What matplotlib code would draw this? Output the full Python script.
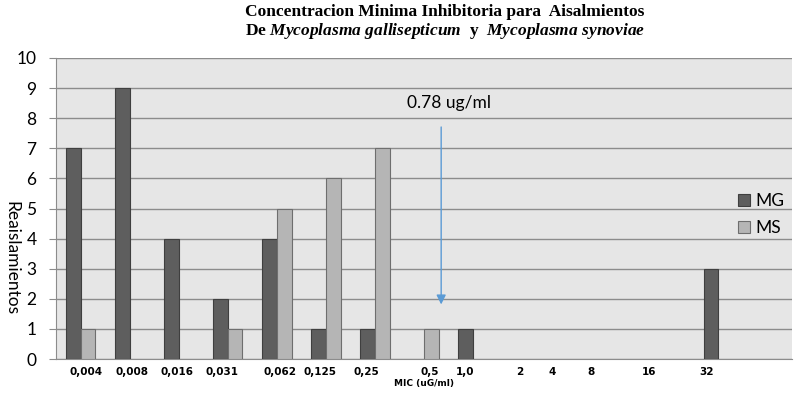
import numpy as np
import matplotlib.pyplot as plt

# datos
categorias = ['0,004', '0,008', '0,016', '0,031', '0,062', '0,125', '0,25',
              '0,5', '1,0', '2', '4', '8', '16', '32', '']
mg = [7, 9, 4, 2, 4, 1, 1, 0, 1, 0, 0, 0, 0, 3, 0]
ms = [1, 0, 0, 1, 5, 6, 7, 1, 0, 0, 0, 0, 0, 0, 0]
# etiquetas del eje x (cuadro de texto, no alineado con las categorias)
etiquetas_x = categorias[:14]
pos_etiquetas = [0.11, 1.04, 1.96, 2.89, 4.07, 4.89, 5.82, 7.12, 7.83,
                 8.95, 9.62, 10.41, 11.59, 12.75]
flecha_x, flecha_y0, flecha_y1 = 7.35, 7.8, 1.72

plt.rcParams['font.family'] = ['Lato', 'DejaVu Sans']

fig = plt.figure(figsize=(8.02, 3.99), dpi=100)
ax = fig.add_axes([56 / 802, 40 / 399, 736 / 802, 301 / 399])
ax.set_facecolor('#e6e6e6')

x = np.arange(len(categorias))
w = 0.3
mg_a = np.array(mg, dtype=float)
ms_a = np.array(ms, dtype=float)
ax.bar(x - w / 2, np.where(mg_a > 0, mg_a, np.nan), w, color='#5e5e5e',
       edgecolor='#3f3f3f', linewidth=0.8, label='MG', zorder=3)
ax.bar(x + w / 2, np.where(ms_a > 0, ms_a, np.nan), w, color='#b5b5b5',
       edgecolor='#6e6e6e', linewidth=0.8, label='MS', zorder=3)

ax.set_xlim(-0.5, len(categorias) - 0.5)
ax.set_ylim(0, 10)
ax.set_yticks(range(0, 11))
ax.tick_params(axis='y', labelsize=12.5, length=5, color='#8c8c8c', pad=9)
ax.yaxis.grid(True, color='#8c8c8c', linewidth=1, zorder=0)
for s in ['top', 'right']:
    ax.spines[s].set_visible(False)
ax.spines['left'].set_color('#8c8c8c')
ax.spines['bottom'].set_color('#8c8c8c')

ax.set_xticks(pos_etiquetas)
ax.set_xticklabels(etiquetas_x, fontsize=7.5, fontweight='bold',
                   family=['DejaVu Sans'])
ax.tick_params(axis='x', length=0, pad=6)
ax.set_xlabel('MIC (uG/ml)', fontsize=6.5, fontweight='bold',
              family=['DejaVu Sans'], labelpad=1)

fig.text(11 / 802, 1 - 258 / 399, 'Reaislamientos', rotation=270,
         fontsize=12.5, ha='center', va='center')

ax.annotate('', xy=(flecha_x, flecha_y1), xytext=(flecha_x, flecha_y0),
            arrowprops=dict(arrowstyle='-|>', color='#5b9bd5', lw=1,
                            mutation_scale=14))
ax.text(flecha_x + 0.16, 8.5, '0.78 ug/ml', fontsize=12.5, ha='center',
        va='center')

ax.legend(loc='center left', bbox_to_anchor=(0.905, 0.48), frameon=False,
          fontsize=12.5, handlelength=0.7, handleheight=0.7, handletextpad=0.3,
          labelspacing=0.6)

plt.rcParams['mathtext.fontset'] = 'custom'
plt.rcParams['mathtext.it'] = 'Liberation Serif:italic:bold'
plt.rcParams['mathtext.rm'] = 'Liberation Serif:bold'
fig.text(445 / 802, 1 - 12 / 399,
         'Concentracion Minima Inhibitoria para  Aisalmientos',
         family=['Liberation Serif'], fontweight='bold', fontsize=12.5,
         ha='center', va='center')
fig.text(445 / 802, 1 - 31 / 399,
         r'De $Mycoplasma\ gallisepticum$  y  $Mycoplasma\ synoviae$',
         family=['Liberation Serif'], fontweight='bold', fontsize=12.5,
         ha='center', va='center')

fig.savefig('out.png', dpi=100)
